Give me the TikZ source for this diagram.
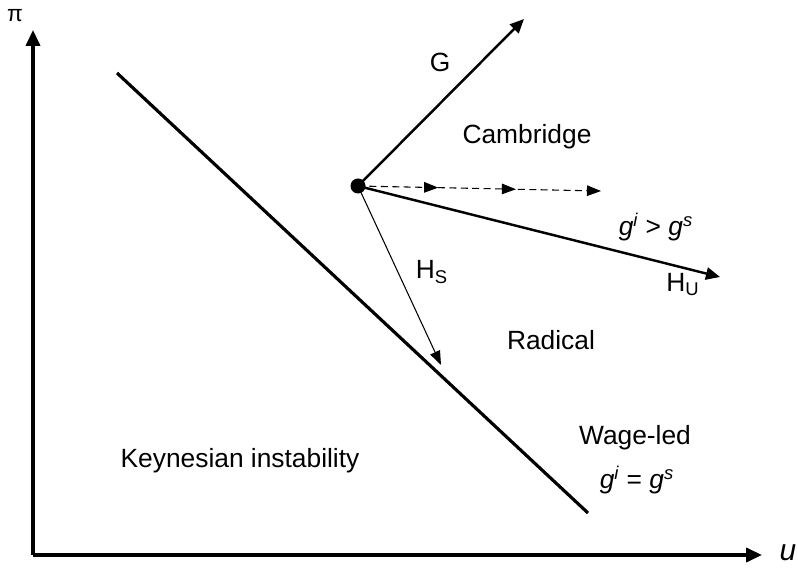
\documentclass[tikz,border=0pt]{standalone}
\usepackage{fontspec}
\setmainfont{Liberation Sans}
\usetikzlibrary{arrows.meta,decorations.markings}
\begin{document}
\begin{tikzpicture}[x=0.02cm,y=-0.02cm,
  lbl/.style={font=\fontsize{15}{18}\selectfont, inner sep=0pt},
  axis/.style={line width=1.8pt,-{Triangle[length=9pt,width=8pt]}},
  thickarrow/.style={line width=1.4pt,-{Triangle[length=8pt,width=7pt]}},
  thinarrow/.style={line width=0.6pt,-{Triangle[length=8pt,width=6pt]}}]
\useasboundingbox (0,0) rectangle (798,570);
\coordinate (O) at (33,555);
\coordinate (Ytop) at (33,30);
\coordinate (Xend) at (762,555);
\draw[axis] (O) -- (Ytop);
\draw[axis] (O) -- (Xend);
\node[lbl, font=\fontsize{13}{16}\selectfont] (pi) at (15,16) {π};
\node[lbl, font=\fontsize{17}{20}\selectfont\itshape] (u) at (788,553) {u};
\coordinate (L1) at (117,73);
\coordinate (L2) at (588,513);
\draw[line width=1.8pt] (L1) -- (L2);
\coordinate (P) at (358,186);
\coordinate (Gend) at (524,19);
\coordinate (Dend) at (601,191);
\coordinate (HUend) at (720,277);
\coordinate (HSend) at (441,365);
\draw[thickarrow] (P) -- (Gend);
\draw[thickarrow] (P) -- (HUend);
\draw[thinarrow] (P) -- (HSend);
\draw[line width=0.6pt, dashed, dash pattern=on 4pt off 2.5pt,
  decoration={markings,
    mark=at position 0.33 with {\arrow{Triangle[length=8pt,width=6pt]}},
    mark=at position 0.65 with {\arrow{Triangle[length=8pt,width=6pt]}}},
  postaction={decorate}, -{Triangle[length=8pt,width=6pt]}] (P) -- (Dend);
\fill (P) circle[radius=0.15cm];
\node[lbl] (G) at (440,62) {G};
\node[lbl] (HS) at (432,272) {H\textsubscript{S}};
\node[lbl] (HU) at (683,285) {H\textsubscript{U}};
\node[lbl] (cam) at (527,137) {Cambridge};
\node[lbl] (gg1) at (656,227) {\textit{g\textsuperscript{i}} \textgreater{} \textit{g\textsuperscript{s}}};
\node[lbl] (rad) at (551,340) {Radical};
\node[lbl] (wl) at (635,438) {Wage-led};
\node[lbl] (gg2) at (637,480) {\textit{g\textsuperscript{i}} = \textit{g\textsuperscript{s}}};
\node[lbl] (key) at (240,461) {Keynesian instability};
\end{tikzpicture}
\end{document}
